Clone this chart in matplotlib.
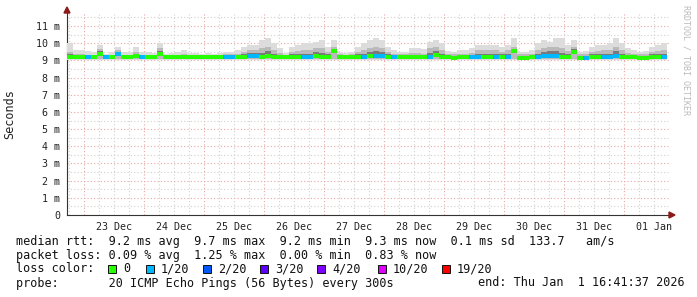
import numpy as np
import matplotlib
matplotlib.use('Agg')
import matplotlib.pyplot as plt
from matplotlib.patches import Rectangle, Polygon

# smoke data, 100 bins of ~2.4 h from 22 Dec 17:05 to 01 Jan 17:00 (ms)
smoke_top = [10.0, 9.6, 9.6, 9.55, 9.5, 9.9, 9.4, 9.5, 9.8, 9.5, 9.5, 9.8, 9.5, 9.5, 9.45, 10.0, 9.4, 9.45, 9.5, 9.6, 9.45,
             9.45, 9.4, 9.45, 9.4, 9.45, 9.5, 9.5, 9.6, 9.8, 9.9, 9.9, 10.2, 10.3,
             10.0, 9.7, 9.45, 9.8, 9.9, 10.0, 10.0, 10.1, 10.2, 9.8, 10.2, 9.5, 9.45, 9.5, 9.8, 10.0, 10.2,
             10.3, 10.2, 9.8, 9.6, 9.5, 9.5, 9.7, 9.7, 9.65, 10.1, 10.2, 10.0, 9.55, 9.5, 9.6, 9.6, 9.7,
             9.9, 9.9, 9.9, 9.9, 9.8, 9.9, 10.3, 9.5, 9.5, 9.6, 10.0, 10.2, 10.1, 10.3, 10.3, 9.9, 10.2,
             9.5, 9.55, 9.8, 9.9, 9.9, 10.0, 10.3, 10.0, 9.7, 9.6, 9.5, 9.55, 9.8, 9.9, 10.0]
smoke_mid = [9.5, 9.35, 9.35, 9.3, 9.3, 9.65, 9.3, 9.3, 9.6, 9.3, 9.3, 9.5, 9.3, 9.3, 9.3, 9.7, 9.3, 9.3, 9.3, 9.35, 9.3,
             9.3, 9.3, 9.3, 9.3, 9.3, 9.35, 9.35, 9.4, 9.5, 9.6, 9.6, 9.7, 9.8,
             9.6, 9.45, 9.3, 9.5, 9.55, 9.6, 9.6, 9.7, 9.7, 9.5, 9.8, 9.35, 9.3, 9.35, 9.5, 9.6, 9.7,
             9.8, 9.7, 9.5, 9.4, 9.35, 9.35, 9.45, 9.45, 9.4, 9.7, 9.8, 9.6, 9.35, 9.35, 9.4, 9.4, 9.45,
             9.6, 9.6, 9.6, 9.6, 9.5, 9.6, 9.8, 9.35, 9.35, 9.4, 9.6, 9.7, 9.8, 9.8, 9.7, 9.55, 9.8,
             9.35, 9.35, 9.5, 9.55, 9.6, 9.6, 9.8, 9.6, 9.45, 9.4, 9.35, 9.35, 9.5, 9.55, 9.6]
median = [9.2, 9.2, 9.2, 9.2, 9.2, 9.4, 9.2, 9.2, 9.35, 9.2, 9.2, 9.25, 9.2, 9.2, 9.2, 9.4, 9.2, 9.2, 9.2, 9.2, 9.2,
          9.2, 9.2, 9.2, 9.2, 9.2, 9.2, 9.2, 9.2, 9.2, 9.25, 9.25, 9.2, 9.25,
          9.2, 9.2, 9.2, 9.2, 9.2, 9.2, 9.2, 9.25, 9.2, 9.2, 9.55, 9.2, 9.2, 9.2, 9.2, 9.2, 9.25,
          9.25, 9.25, 9.2, 9.2, 9.2, 9.2, 9.2, 9.2, 9.2, 9.2, 9.3, 9.2, 9.2, 9.15, 9.2, 9.2, 9.2,
          9.2, 9.2, 9.2, 9.2, 9.2, 9.2, 9.55, 9.15, 9.15, 9.2, 9.2, 9.25, 9.25, 9.25, 9.2, 9.2, 9.5,
          9.15, 9.15, 9.2, 9.2, 9.2, 9.2, 9.25, 9.2, 9.2, 9.2, 9.15, 9.15, 9.2, 9.2, 9.2]
loss = [0, 0, 0, 1, 0, 0, 1, 0, 1, 0, 0, 0, 1, 0, 0, 0, 0, 0, 0, 0, 0,
        0, 0, 0, 0, 0, 1, 1, 0, 0, 1, 1, 0, 0,
        0, 0, 0, 0, 0, 1, 1, 0, 0, 0, 0, 0, 0, 0, 0, 1, 0,
        1, 1, 0, 1, 0, 0, 0, 0, 0, 1, 0, 0, 0, 0, 0, 0, 1,
        1, 0, 0, 1, 0, 1, 0, 0, 0, 0, 1, 1, 1, 1, 0, 0, 0,
        0, 1, 0, 0, 1, 1, 1, 0, 0, 0, 0, 0, 0, 0, 1]

loss_keys = [0, 1, 2, 3, 4, 10, 19]
loss_labels = ['0', '1/20', '2/20', '3/20', '4/20', '10/20', '19/20']
loss_colors = ['#26ff00', '#00b8ff', '#0059ff', '#5e00ff', '#7e00ff', '#dd00ff', '#ff0000']
day_labels = ['23 Dec', '24 Dec', '25 Dec', '26 Dec', '27 Dec',
              '28 Dec', '29 Dec', '30 Dec', '31 Dec', '01 Jan']

W, H = 697, 297
mono = 'DejaVu Sans Mono'
plt.rcParams['font.family'] = mono

fig = plt.figure(figsize=(W / 100, H / 100), dpi=100)
ax = fig.add_axes([67 / W, (H - 215) / H, 602 / W, 203 / H])

# days counted from 22 Dec 00:00
x0 = 0.712
n = len(smoke_top)
centers = x0 + 0.1 * np.arange(n) + 0.05
top = np.array(smoke_top)
mid = np.array(smoke_mid)
med = np.array(median)

ax.bar(centers, top - 9.05, bottom=9.05, width=0.1, color='#dcdcdc', linewidth=0, zorder=3)
ax.bar(centers, mid - 9.1, bottom=9.1, width=0.1, color='#bababa', linewidth=0, zorder=4)
dark_hi = med + 0.5 * (mid - med)
ax.bar(centers, dark_hi - med, bottom=med, width=0.1, color='#7a7a7a', linewidth=0, zorder=5)
cmap = dict(zip(loss_keys, loss_colors))
ax.bar(centers, 0.24, bottom=med - 0.12, width=0.1,
       color=[cmap[k] for k in loss], linewidth=0, zorder=6)

ax.set_xlim(x0, 10.745)
ax.set_ylim(0, 11.82)
ax.set_xticks(np.arange(1, 11) + 0.5)
ax.set_xticklabels(day_labels)
ax.set_yticks(range(12))
ax.set_yticklabels(['0'] + ['%d m' % v for v in range(1, 12)])
ax.tick_params(labelsize=7.2, length=0, pad=5, colors='#222222')

# grids
for v in np.arange(0.75, 10.75, 0.25):
    c = '#e8a6a6' if abs(v - round(v)) < 1e-6 else '#d0d0d0'
    ax.axvline(v, color=c, lw=0.8, ls=(0, (1, 2)), zorder=1)
for v in np.arange(0.5, 11.6, 0.5):
    c = '#e8a6a6' if abs(v - round(v)) < 1e-6 else '#d0d0d0'
    ax.axhline(v, color=c, lw=0.8, ls=(0, (1, 2)), zorder=1)

for s in ['top', 'right']:
    ax.spines[s].set_visible(False)
for s in ['left', 'bottom']:
    ax.spines[s].set_color('#333333')
    ax.spines[s].set_linewidth(0.8)

# arrows
fig.patches.append(Polygon([[64 / W, 1 - 13 / H], [70 / W, 1 - 13 / H], [67 / W, 1 - 7 / H]],
                           closed=True, color='#8b1a1a', transform=fig.transFigure))
fig.patches.append(Polygon([[669 / W, 1 - 212 / H], [669 / W, 1 - 218 / H], [675 / W, 1 - 215 / H]],
                           closed=True, color='#8b1a1a', transform=fig.transFigure))

fig.text(10 / W, 1 - 114 / H, 'Seconds', rotation=90, ha='center', va='center', fontsize=8.5, color='#222222')
fig.text(686 / W, 1 - 5 / H, 'RRDTOOL / TOBI OETIKER', rotation=270, ha='center', va='top',
         fontsize=6, color='#bbbbbb')

def txt(x, y, s, **kw):
    fig.text(x / W, 1 - y / H, s, ha='left', va='center', fontsize=8.5, color='#111111', **kw)

txt(16, 241, 'median rtt:  9.2 ms avg  9.7 ms max  9.2 ms min  9.3 ms now  0.1 ms sd  133.7   am/s')
txt(16, 255, 'packet loss: 0.09 % avg  1.25 % max  0.00 % min  0.83 % now')
txt(16, 269, 'loss color:')
sq_x = [108, 146, 203, 260, 317, 378, 442]
for sx, lab, col in zip(sq_x, loss_labels, loss_colors):
    fig.patches.append(Rectangle((sx / W, 1 - 273 / H), 8 / W, 8 / H, facecolor=col,
                                 edgecolor='#111111', lw=0.7, transform=fig.transFigure))
    txt(sx + 15, 269, lab)
txt(16, 283, 'probe:       20 ICMP Echo Pings (56 Bytes) every 300s')
txt(478, 283, 'end: Thu Jan  1 16:41:37 2026')

fig.savefig('out.png', dpi=100, facecolor='white')
